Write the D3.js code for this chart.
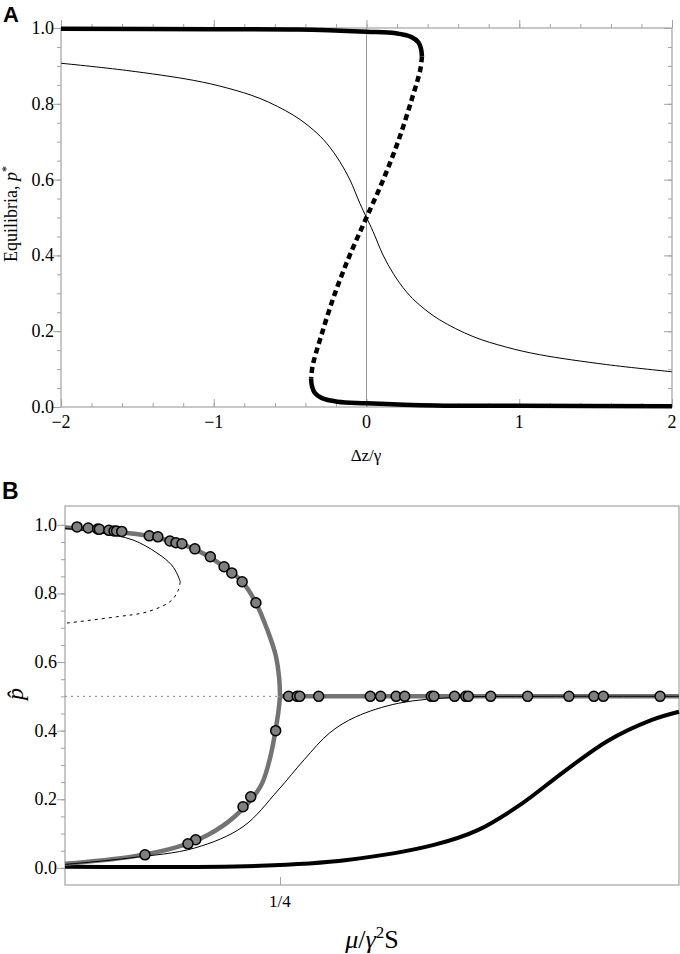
<!DOCTYPE html>
<html>
<head>
<meta charset="utf-8">
<script src="https://cdn.jsdelivr.net/npm/d3@7"></script>
<style>
  body { margin: 0; background: #fff; }
  text { font-family: "Liberation Serif", "DejaVu Serif", serif; }
</style>
</head>
<body>
<svg id="fig" width="680" height="954"></svg>
<script>
// ---- panneau A : équilibres en fonction de dz/gamma ----
const ticksA_x = [-2, -1, 0, 1, 2];
const ticksA_y = [0.0, 0.2, 0.4, 0.6, 0.8, 1.0];

// branche stable haute (trait épais)
const hautA_x = [-2, -1, -0.45, 0, 0.19, 0.295, 0.34, 0.357, 0.363];
const hautA_p = [0.998, 0.997, 0.996, 0.99, 0.986, 0.976, 0.962, 0.945, 0.925];
// branche instable (pointillés épais)
const milieuA_x = [0.363, 0.352, 0.295, 0.21, 0.11, 0, -0.11, -0.21, -0.295, -0.352, -0.363];
const milieuA_p = [0.925, 0.89, 0.81, 0.704, 0.6, 0.5, 0.4, 0.296, 0.19, 0.11, 0.075];
// branche stable basse
const basA_x = [-0.363, -0.357, -0.34, -0.295, -0.19, 0, 0.45, 1, 2];
const basA_p = [0.075, 0.055, 0.038, 0.024, 0.014, 0.01, 0.004, 0.003, 0.002];
// courbe fine
const fineA_x = [-2, -1.57, -1.134, -0.915, -0.697, -0.479, -0.348, -0.261, -0.174, -0.108, -0.043, 0,
                 0.043, 0.108, 0.174, 0.261, 0.348, 0.479, 0.697, 0.915, 1.134, 1.57, 2];
const fineA_p = [0.907, 0.888, 0.862, 0.842, 0.814, 0.770, 0.731, 0.696, 0.647, 0.599, 0.537, 0.5,
                 0.463, 0.401, 0.353, 0.304, 0.269, 0.230, 0.186, 0.158, 0.138, 0.112, 0.093];

// ---- panneau B : p chapeau en fonction de mu/gamma^2 S ----
const ticksB_y = [0.0, 0.2, 0.4, 0.6, 0.8, 1.0];
const ticksB_x = [0.25];
const labelsB_x = ["1/4"];

// courbe grise épaisse (forme en C puis plateau à 0.5)
const griseHaut_x = [0, 0.05, 0.1, 0.15, 0.185, 0.206, 0.222, 0.235, 0.245, 0.249, 0.25];
const griseHaut_p = [0.992, 0.982, 0.966, 0.93, 0.878, 0.834, 0.773, 0.696, 0.62, 0.554, 0.5];
const griseBas_x = [0.25, 0.248, 0.237, 0.227, 0.197, 0.166, 0.127, 0.076, 0];
const griseBas_p = [0.5, 0.452, 0.306, 0.236, 0.149, 0.096, 0.058, 0.032, 0.012];
const grisePlateau_x = [0.25, 0.714];
const grisePlateau_p = [0.5, 0.5];

// courbe fine : boucle du haut (solide puis pointillée) et sigmoïde du bas
const fineHaut_x = [0, 0.0407, 0.079, 0.107, 0.124, 0.131, 0.134];
const fineHaut_p = [0.99, 0.977, 0.956, 0.918, 0.883, 0.854, 0.834];
const fineRetour_x = [0.134, 0.131, 0.122, 0.095, 0.06, 0];
const fineRetour_p = [0.834, 0.805, 0.776, 0.746, 0.732, 0.713];
const fineBas_x = [0, 0.076, 0.151, 0.207, 0.248, 0.278, 0.308, 0.338, 0.388, 0.455, 0.55, 0.714];
const fineBas_p = [0.01, 0.029, 0.058, 0.12, 0.227, 0.315, 0.394, 0.44, 0.48, 0.497, 0.5, 0.5];

// courbe noire épaisse
const epaisse_x = [0, 0.227, 0.328, 0.429, 0.48, 0.53, 0.58, 0.631, 0.681, 0.714];
const epaisse_p = [0.003, 0.006, 0.023, 0.067, 0.11, 0.185, 0.28, 0.37, 0.43, 0.455];

// simulations (cercles)
const points_x = [0.014, 0.027, 0.038, 0.040, 0.051, 0.057, 0.060, 0.066, 0.098, 0.108, 0.122, 0.129, 0.136, 0.151, 0.169, 0.185, 0.194, 0.206, 0.222,
                  0.245, 0.216, 0.207, 0.152, 0.143, 0.093,
                  0.260, 0.270, 0.273, 0.295, 0.355, 0.367, 0.385, 0.395, 0.426, 0.429, 0.453, 0.466, 0.469, 0.495, 0.538, 0.586, 0.615, 0.626, 0.692];
const points_p = [0.994, 0.991, 0.988, 0.987, 0.984, 0.982, 0.982, 0.981, 0.968, 0.965, 0.953, 0.948, 0.945, 0.930, 0.907, 0.878, 0.860, 0.834, 0.773,
                  0.40, 0.207, 0.178, 0.082, 0.07, 0.038,
                  0.5, 0.5, 0.5, 0.5, 0.5, 0.5, 0.5, 0.5, 0.5, 0.5, 0.5, 0.5, 0.5, 0.5, 0.5, 0.5, 0.5, 0.5, 0.5];

const svg = d3.select("#fig");
const gris = "#a3a3a3";

// petite fonction pour assembler x et p
const zip = (xs, ps) => xs.map((x, i) => [x, ps[i]]);

// ================= PANNEAU A =================
const xA = d3.scaleLinear().domain([-2, 2]).range([61, 672]);
const yA = d3.scaleLinear().domain([0, 1]).range([407, 28]);
const gA = svg.append("g");

gA.append("rect")
    .attr("x", xA(-2)).attr("y", yA(1))
    .attr("width", xA(2) - xA(-2)).attr("height", yA(0) - yA(1))
    .attr("fill", "none").attr("stroke", gris).attr("stroke-width", 1.2);

// graduations vers l'intérieur sur les 4 côtés
function graduations(g, axe, pos, majeures, mineures, taille) {
    g.append("g").attr("transform", pos)
        .call(axe.tickValues(mineures).tickSize(-taille / 2).tickFormat(""))
        .call(s => s.select(".domain").remove())
        .selectAll("line").attr("stroke", gris);
    g.append("g").attr("transform", pos)
        .call(axe.tickValues(majeures).tickSize(-taille).tickFormat(""))
        .call(s => s.select(".domain").remove())
        .selectAll("line").attr("stroke", gris);
}
const minA_x = d3.range(-2, 2.001, 0.2).map(v => +v.toFixed(2));
const minA_y = d3.range(0, 1.001, 0.05).map(v => +v.toFixed(2));
graduations(gA, d3.axisBottom(xA), `translate(0,${yA(0)})`, ticksA_x, minA_x, 8);
graduations(gA, d3.axisTop(xA), `translate(0,${yA(1)})`, ticksA_x, minA_x, -8);
graduations(gA, d3.axisLeft(yA), `translate(${xA(-2)},0)`, ticksA_y, minA_y, -8);
graduations(gA, d3.axisRight(yA), `translate(${xA(2)},0)`, ticksA_y, minA_y, 8);

// étiquettes
gA.selectAll(".lx").data(ticksA_x).join("text")
    .attr("x", d => xA(d)).attr("y", 428)
    .attr("text-anchor", "middle").attr("font-size", 18)
    .text(d => d < 0 ? "\u2212" + Math.abs(d) : d);
gA.selectAll(".ly").data(ticksA_y).join("text")
    .attr("x", 54).attr("y", d => yA(d)).attr("dy", "0.33em")
    .attr("text-anchor", "end").attr("font-size", 18)
    .text(d => d.toFixed(1));

// ligne verticale à 0
gA.append("line")
    .attr("x1", xA(0)).attr("x2", xA(0)).attr("y1", yA(0)).attr("y2", yA(1))
    .attr("stroke", "#999").attr("stroke-width", 1);

const ligneA = d3.line().x(d => xA(d[0])).y(d => yA(d[1])).curve(d3.curveCatmullRom);

gA.append("path").datum(zip(fineA_x, fineA_p))
    .attr("d", ligneA).attr("fill", "none").attr("stroke", "#000").attr("stroke-width", 1);
gA.append("path").datum(zip(hautA_x, hautA_p))
    .attr("d", ligneA).attr("fill", "none").attr("stroke", "#000").attr("stroke-width", 4.5);
gA.append("path").datum(zip(basA_x, basA_p))
    .attr("d", ligneA).attr("fill", "none").attr("stroke", "#000").attr("stroke-width", 4.5);
gA.append("path").datum(zip(milieuA_x, milieuA_p))
    .attr("d", ligneA).attr("fill", "none").attr("stroke", "#000").attr("stroke-width", 4.5)
    .attr("stroke-dasharray", "6,4");

// titres
gA.append("text").attr("x", 366).attr("y", 461)
    .attr("text-anchor", "middle").attr("font-size", 17).text("\u0394z/\u03b3");
const titreY = gA.append("text")
    .attr("transform", "translate(17,214) rotate(-90)")
    .attr("text-anchor", "middle").attr("font-size", 18);
titreY.append("tspan").text("Equilibria, ");
titreY.append("tspan").attr("font-style", "italic").text("p");
titreY.append("tspan").attr("dy", -7).attr("font-size", 12).text("*");

svg.append("text").attr("x", 3).attr("y", 22)
    .style("font-family", "'Liberation Sans', Arial, sans-serif").attr("font-weight", "bold")
    .attr("font-size", 22).text("A");

// ================= PANNEAU B =================
const xB = d3.scaleLinear().domain([0, 0.714]).range([65, 679]);
const yB = d3.scaleLinear().domain([-0.05, 1.055]).range([885, 506]);
const gB = svg.append("g");

gB.append("rect")
    .attr("x", 65).attr("y", 506).attr("width", 679 - 65).attr("height", 885 - 506)
    .attr("fill", "none").attr("stroke", gris).attr("stroke-width", 1.2);

const minB_y = d3.range(0, 1.001, 0.05).map(v => +v.toFixed(2));
graduations(gB, d3.axisLeft(yB), "translate(65,0)", ticksB_y, minB_y, -8);
graduations(gB, d3.axisBottom(xB), "translate(0,885)", ticksB_x, [], 8);

gB.selectAll(".ly").data(ticksB_y).join("text")
    .attr("x", 57).attr("y", d => yB(d)).attr("dy", "0.33em")
    .attr("text-anchor", "end").attr("font-size", 18)
    .text(d => d.toFixed(1));
gB.selectAll(".lx").data(ticksB_x).join("text")
    .attr("x", d => xB(d)).attr("y", 907)
    .attr("text-anchor", "middle").attr("font-size", 17)
    .text((d, i) => labelsB_x[i]);

// pointillés gris à 0.5
gB.append("line")
    .attr("x1", xB(0)).attr("x2", xB(0.25)).attr("y1", yB(0.5)).attr("y2", yB(0.5))
    .attr("stroke", "#888").attr("stroke-width", 1).attr("stroke-dasharray", "2,4");

const ligneB = d3.line().x(d => xB(d[0])).y(d => yB(d[1])).curve(d3.curveCatmullRom);

gB.append("path").datum(zip(epaisse_x, epaisse_p))
    .attr("d", ligneB).attr("fill", "none").attr("stroke", "#000").attr("stroke-width", 4);
[[griseHaut_x, griseHaut_p], [griseBas_x, griseBas_p], [grisePlateau_x, grisePlateau_p]].forEach(c => {
    gB.append("path").datum(zip(c[0], c[1]))
        .attr("d", ligneB).attr("fill", "none").attr("stroke", "#737373").attr("stroke-width", 4.5);
});
gB.append("path").datum(zip(fineHaut_x, fineHaut_p))
    .attr("d", ligneB).attr("fill", "none").attr("stroke", "#000").attr("stroke-width", 1);
gB.append("path").datum(zip(fineRetour_x, fineRetour_p))
    .attr("d", ligneB).attr("fill", "none").attr("stroke", "#000").attr("stroke-width", 1)
    .attr("stroke-dasharray", "3,4");
gB.append("path").datum(zip(fineBas_x, fineBas_p))
    .attr("d", ligneB).attr("fill", "none").attr("stroke", "#000").attr("stroke-width", 1);

gB.selectAll("circle").data(zip(points_x, points_p)).join("circle")
    .attr("cx", d => xB(d[0])).attr("cy", d => yB(d[1])).attr("r", 5)
    .attr("fill", "#7f7f7f").attr("stroke", "#000").attr("stroke-width", 1.5);

// titres B
gB.append("text").attr("x", 372).attr("y", 948)
    .attr("text-anchor", "middle").attr("font-size", 26)
    .call(t => {
        t.append("tspan").attr("font-style", "italic").text("\u03bc");
        t.append("tspan").text("/");
        t.append("tspan").attr("font-style", "italic").text("\u03b3");
        t.append("tspan").attr("dy", -10).attr("font-size", 17).text("2");
        t.append("tspan").attr("dy", 10).text("S");
    });
gB.append("text")
    .attr("transform", "translate(23,694) rotate(-90)")
    .attr("text-anchor", "middle").attr("font-size", 24).attr("font-style", "italic")
    .text("p\u0302");

svg.append("text").attr("x", 2).attr("y", 499)
    .style("font-family", "'Liberation Sans', Arial, sans-serif").attr("font-weight", "bold")
    .attr("font-size", 23).text("B");
</script>
</body>
</html>
